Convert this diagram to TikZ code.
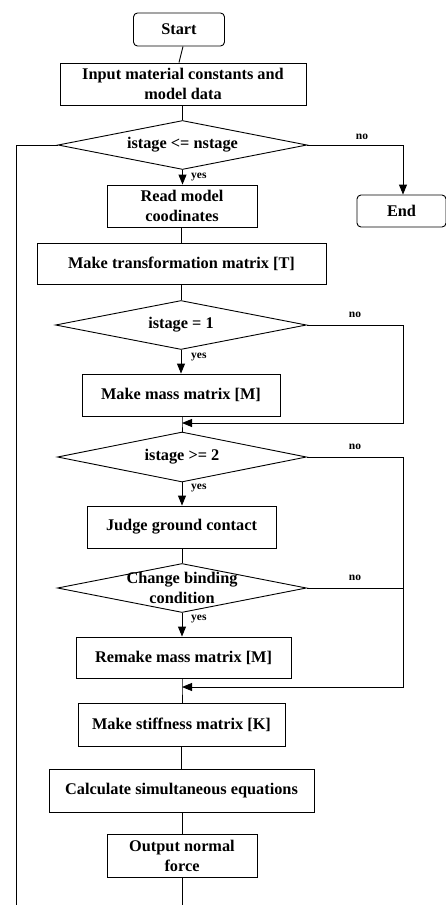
\documentclass[tikz,border=0pt]{standalone}
\usepackage{fontspec}
\setmainfont{Liberation Serif}
\usetikzlibrary{arrows.meta,shapes.geometric}

\begin{document}
\begin{tikzpicture}[x=1pt,y=-1pt,
  every node/.style={font=\bfseries\fontsize{16.3}{20}\selectfont},
  flow/.style={line width=0.9pt},
  arr/.style={flow,-{Triangle[length=10pt,width=8pt]}},
  procbox/.style={draw,line width=0.9pt,rectangle,inner sep=0pt,align=center},
  termbox/.style={procbox,rounded corners=4pt},
  decbox/.style={draw,line width=0.9pt,diamond,inner sep=0pt,
    minimum width=249pt,minimum height=49pt},
  declbl/.style={font=\bfseries\fontsize{16.3}{20}\selectfont,align=center},
  tag/.style={font=\bfseries\fontsize{11.5}{13}\selectfont,inner sep=0pt}]

\useasboundingbox (0,0) rectangle (446,905);

% boxes
\node[termbox,minimum width=91pt,minimum height=33pt] (start) at (179,29.5) {Start};
\node[procbox,minimum width=246pt,minimum height=42pt] (input) at (183,84) {Input material constants and\\model data};
\node[decbox,label={[declbl]center:istage <= nstage}] (d1) at (182.5,145) {};
\node[procbox,minimum width=150pt,minimum height=42pt] (read) at (182,206) {Read model\\coodinates};
\node[termbox,minimum width=89pt,minimum height=32pt] (endbox) at (401.5,211) {End};
\node[procbox,minimum width=289pt,minimum height=41pt] (trans) at (181.5,263.5) {Make transformation matrix [T]};
\node[decbox,minimum width=251pt,label={[declbl]center:istage = 1}] (d2) at (181,325) {};
\node[procbox,minimum width=198pt,minimum height=42pt] (mass) at (181,395) {Make mass matrix [M]};
\node[decbox,minimum height=50pt,label={[declbl]center:istage >= 2}] (d3) at (182,457) {};
\node[procbox,minimum width=189pt,minimum height=42pt] (judge) at (181.5,527) {Judge ground contact};
\node[decbox,label={[declbl]center:Change binding\\condition}] (d4) at (182,588) {};
\node[procbox,minimum width=215pt,minimum height=41pt] (remake) at (183.5,657.5) {Remake mass matrix [M]};
\node[procbox,minimum width=207pt,minimum height=43pt] (stiff) at (181.5,724.5) {Make stiffness matrix [K]};
\node[procbox,minimum width=265pt,minimum height=43pt] (calc) at (181.5,790.5) {Calculate simultaneous equations};
\node[procbox,minimum width=150pt,minimum height=43pt] (out) at (182,855.5) {Output normal\\force};

% junctions and open ends
\coordinate (j1) at (182,423);
\coordinate (j2) at (182,687);
\coordinate (loopL) at (16,145);
\coordinate (loopB) at (16,905);
\coordinate (outB) at (182,905);
\coordinate (rx) at (403,0);

% main line
\draw[flow] (start.south -| input.north) -- (input.north -| start.south);
\draw[flow] (input.south -| d1.north) -- (d1.north);
\draw[arr] (d1.south) -- (read.north -| d1.south);
\draw[flow] (read.south -| trans.north) -- (trans.north);
\draw[flow] (trans.south -| d2.north) -- (d2.north);
\draw[arr] (d2.south) -- (mass.north -| d2.south);
\draw[flow] (mass.south -| j1) -- (j1) -- (d3.north);
\draw[arr] (d3.south) -- (judge.north -| d3.south);
\draw[flow] (judge.south -| d4.north) -- (d4.north);
\draw[arr] (d4.south) -- (remake.north -| d4.south);
\draw[flow] (remake.south -| j2) -- (j2) -- (stiff.north -| j2);
\draw[flow] (stiff.south -| calc.north) -- (calc.north);
\draw[flow] (calc.south -| out.north) -- (out.north);
\draw[flow] (out.south) -- (outB);

% branches
\draw[arr] (d1.east) -| (endbox.north -| rx);
\draw[flow] (d1.west) -- (loopL) -- (loopB);
\draw[arr] (d2.east) -| (rx |- j1) -- (j1);
\draw[arr] (d3.east) -| (rx |- j2) -- (j2);
\draw[flow] (d4.east) -- (d4.east -| rx);

% branch labels
\node[tag] at (362,137) {no};
\node[tag] at (355,315) {no};
\node[tag] at (355,447) {no};
\node[tag] at (355,578) {no};
\node[tag,anchor=west] at (191,177) {yes};
\node[tag,anchor=west] at (191,357) {yes};
\node[tag,anchor=west] at (191,488) {yes};
\node[tag,anchor=west] at (191,619) {yes};
\end{tikzpicture}
\end{document}
